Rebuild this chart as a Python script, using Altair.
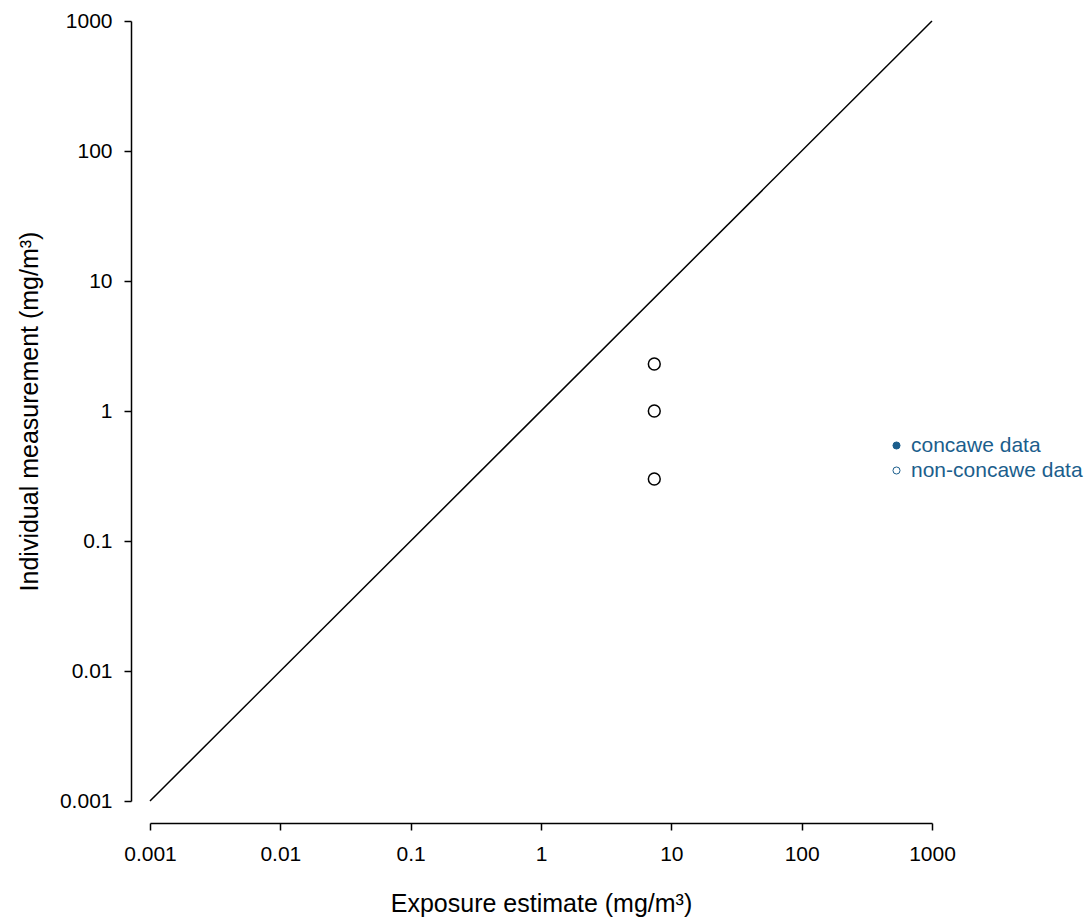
import altair as alt
import pandas as pd

# data
pt_x = [7.4, 7.4, 7.4]
pt_y = [2.3, 1.0, 0.3]
pt_group = ["non-concawe data", "non-concawe data", "non-concawe data"]
line_x = [0.001, 1000]
line_y = [0.001, 1000]
ticks = [0.001, 0.01, 0.1, 1, 10, 100, 1000]
groups = ["concawe data", "non-concawe data"]
group_fill = ["#1b5e8c", "white"]

pts = pd.DataFrame({"x": pt_x, "y": pt_y, "group": pt_group})
ln = pd.DataFrame({"x": line_x, "y": line_y})

FONT = "Liberation Sans"
xscale = alt.Scale(type="log", domain=[0.001, 1000], nice=False)
yscale = alt.Scale(type="log", domain=[0.001, 1000], nice=False)

xaxis = alt.Axis(values=ticks, format="~g", offset=22, title="Exposure estimate (mg/m³)",
                 labelPadding=13, titlePadding=27)
yaxis = alt.Axis(values=ticks, format="~g", offset=19, title="Individual measurement (mg/m³)",
                 labelPadding=12, titlePadding=17)

line = alt.Chart(ln).mark_line(color="black", strokeWidth=1.5).encode(
    x=alt.X("x:Q", scale=xscale, axis=xaxis),
    y=alt.Y("y:Q", scale=yscale, axis=yaxis),
)

points = alt.Chart(pts).mark_point(shape="circle", stroke="black", strokeWidth=1.5,
                                   size=140, opacity=1, filled=False).encode(
    x=alt.X("x:Q", scale=xscale, axis=xaxis),
    y=alt.Y("y:Q", scale=yscale, axis=yaxis),
    fill=alt.Fill("group:N", scale=alt.Scale(domain=groups, range=group_fill),
                  legend=alt.Legend(title=None, orient="none", legendX=736, legendY=414,
                                    symbolType="circle", symbolSize=50,
                                    symbolStrokeColor="#1b5e8c", symbolStrokeWidth=1,
                                    rowPadding=3, labelOffset=4, labelLimit=0)),
)

chart = alt.layer(line, points).properties(
    width=782, height=780,
    padding={"left": 17, "top": 10, "right": 2, "bottom": 5},
    background="white",
).configure_view(
    stroke=None
).configure_axis(
    grid=False, tickSize=7, labelFontSize=21, labelFont=FONT,
    labelColor="black", titleFont=FONT, titleFontSize=25, titleFontWeight="normal",
    titleColor="black", domainColor="black", tickColor="black",
    domainWidth=1.5, tickWidth=1.5, labelFlush=False,
).configure_legend(
    labelFont=FONT, labelFontSize=21, labelColor="#1b5e8c", labelLimit=0,
)

chart.save("out.html", embed_options={"renderer": "svg", "actions": False})
